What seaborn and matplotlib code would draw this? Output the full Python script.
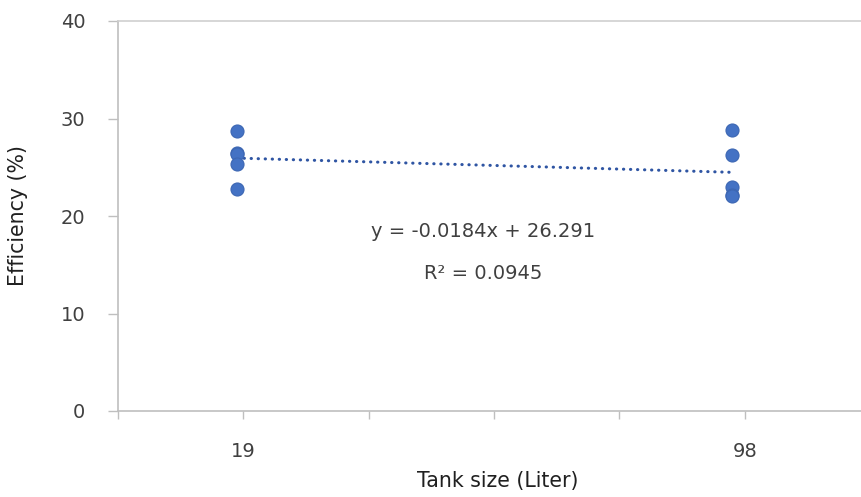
import numpy as np
import pandas as pd
import matplotlib
matplotlib.use("Agg")
import matplotlib.pyplot as plt
import seaborn as sns

# ---- data ----
tank_size = [19, 19, 19, 19, 19, 98, 98, 98, 98, 98]
efficiency = [28.7, 26.5, 26.4, 25.3, 22.8, 28.8, 26.3, 23.0, 22.2, 22.1]
x_tick_values = [0, 20, 40, 60, 80, 100, 120]
x_tick_labels = ["", "19", "", "", "", "98", ""]
y_ticks = [0, 10, 20, 30, 40]
equation_text = "y = -0.0184x + 26.291"
r2_text = "R\u00b2 = 0.0945"
x_title = "Tank size (Liter)"
y_title = "Efficiency (%)"

df = pd.DataFrame({"tank": tank_size, "eff": efficiency})

sns.set_style("white")
plt.rcParams["font.family"] = ["DejaVu Sans"]

fig = plt.figure(figsize=(8.61, 4.97), dpi=100)
W, H = 861, 497
ax = fig.add_axes([118 / W, 1 - 411 / H, 752 / W, 390 / H])

sns.regplot(
    data=df, x="tank", y="eff", ax=ax, ci=None, truncate=True,
    scatter_kws=dict(s=88, color="#4472C4", edgecolor="#3d67b3", linewidths=0.8, alpha=1, zorder=3),
    line_kws=dict(color="#2f55a3", lw=2.2, linestyle=(0, (0.1, 2.2)),
                  dash_capstyle="round", solid_capstyle="round", zorder=2),
)

ax.set_xlim(0, 120)
ax.set_ylim(0, 40)
ax.set_xticks(x_tick_values)
ax.set_xticklabels(x_tick_labels)
ax.set_yticks(y_ticks)

for s in ["left", "bottom"]:
    ax.spines[s].set_color("#BFBFBF")
    ax.spines[s].set_linewidth(1.2)
ax.spines["top"].set_color("#D0D0D0")
ax.spines["top"].set_linewidth(1.2)
ax.spines["right"].set_visible(False)

ax.tick_params(axis="y", direction="out", length=7.5, width=1.0, color="#BFBFBF",
               pad=16, labelsize=14, labelcolor="#404040", left=True)
ax.tick_params(axis="x", direction="out", length=6, width=1.0, color="#BFBFBF",
               pad=16, labelsize=14, labelcolor="#404040", bottom=True)

ax.set_xlabel(x_title, fontsize=14.8, color="#202020", va="center")
ax.set_ylabel(y_title, fontsize=14.8, color="#202020", va="center")
ax.xaxis.set_label_coords((498 - 118) / 752, (411 - 481) / 390)
ax.yaxis.set_label_coords((18 - 118) / 752, 0.5)

ax.text(58.2, 18.4, equation_text, ha="center", va="center", fontsize=14, color="#404040")
ax.text(58.3, 14.1, r2_text, ha="center", va="center", fontsize=14, color="#404040")

fig.savefig("out.png", dpi=100)
